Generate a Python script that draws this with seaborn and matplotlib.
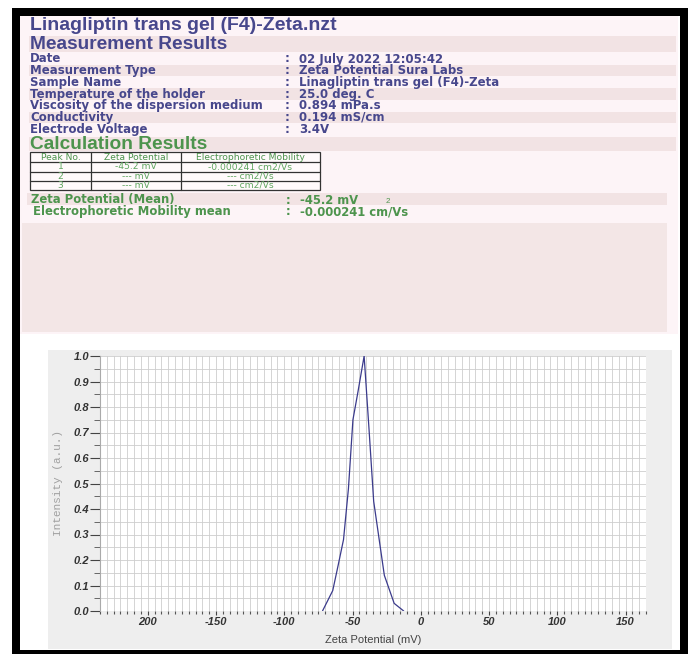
import matplotlib
matplotlib.use("agg")
import matplotlib.pyplot as plt
from matplotlib.patches import Rectangle
from matplotlib.ticker import MultipleLocator, FixedLocator
import seaborn as sns
import pandas as pd

# chart data
zeta_mv = [-72, -64.5, -60.5, -56.6, -53, -49.7, -46, -41.5, -38, -34.5, -31, -26.7, -19.5, -12.5]
intensity = [0.0, 0.08, 0.18, 0.28, 0.48, 0.75, 0.86, 1.0, 0.72, 0.43, 0.30, 0.14, 0.03, 0.0]
x_ticks = [-200, -150, -100, -50, 0, 50, 100, 150]
x_tick_labels = ["200", "-150", "-100", "-50", "0", "50", "100", "150"]
y_ticks = [0.0, 0.1, 0.2, 0.3, 0.4, 0.5, 0.6, 0.7, 0.8, 0.9, 1.0]

# report text
title = "Linagliptin trans gel (F4)-Zeta.nzt"
meas_labels = ["Date", "Measurement Type", "Sample Name", "Temperature of the holder",
               "Viscosity of the dispersion medium", "Conductivity", "Electrode Voltage"]
meas_values = ["02 July 2022 12:05:42", "Zeta Potential Sura Labs", "Linagliptin trans gel (F4)-Zeta",
               "25.0 deg. C", "0.894 mPa.s", "0.194 mS/cm", "3.4V"]
table_header = ["Peak No.", "Zeta Potential", "Electrophoretic Mobility"]
table_rows = [["1", "-45.2 mV", "-0.000241 cm2/Vs"],
              ["2", "--- mV", "--- cm2/Vs"],
              ["3", "--- mV", "--- cm2/Vs"]]
mean_labels = ["Zeta Potential (Mean)", "Electrophoretic Mobility mean"]
mean_values = ["-45.2 mV", "-0.000241 cm/Vs"]

W, H = 690, 654
BLUE = "#47478c"
GREEN = "#4d944d"
LGREEN = "#5fa55f"
PINK = "#fdf4f7"
BAND = "#f2e3e4"
ROWFONT = "DejaVu Sans"

sns.set_theme(style="whitegrid")
plt.rcParams["font.family"] = ["Liberation Sans", "DejaVu Sans"]

fig = plt.figure(figsize=(W / 100, H / 100), dpi=100)
fig.patch.set_facecolor("white")


def box(x0, y0, x1, y1, color, ec="none", lw=0, z=0):
    r = Rectangle((x0 / W, 1 - y1 / H), (x1 - x0) / W, (y1 - y0) / H,
                  transform=fig.transFigure, facecolor=color, edgecolor=ec, lw=lw, zorder=z)
    fig.patches.append(r)


def txt(x, y, s, **kw):
    kw.setdefault("va", "center")
    kw.setdefault("zorder", 3)
    fig.text(x / W, 1 - y / H, s, **kw)


# black frame and backgrounds
box(12, 8, 688, 654, "black")
box(20, 16, 680, 650, "white")
box(20, 16, 678, 334, PINK)
box(48, 350, 672, 649, "#eeeeee")

# title + measurement block
txt(30, 26, title, fontsize=14, fontweight="bold", color=BLUE)
box(29, 36, 676, 52, BAND)
txt(30, 44.5, "Measurement Results", fontsize=13.8, fontweight="bold", color=BLUE)
for i, (lab, val) in enumerate(zip(meas_labels, meas_values)):
    yc = 59 + i * 11.7
    if i % 2 == 1:
        box(29, yc - 5.6, 676, yc + 5.6, BAND)
    txt(30, yc, lab, fontsize=8.5, fontweight="bold", color=BLUE, family=ROWFONT)
    txt(285, yc, ":", fontsize=8.5, fontweight="bold", color=BLUE, family=ROWFONT)
    txt(299, yc, val, fontsize=8.5, fontweight="bold", color=BLUE, family=ROWFONT)

box(29, 137, 676, 151, BAND)
txt(30, 144.5, "Calculation Results", fontsize=13.8, fontweight="bold", color=GREEN)

# results table
col_x = [30, 91, 181, 320]
row_y = [152, 162, 171.5, 180.8, 190]
box(col_x[0], row_y[0], col_x[-1], row_y[-1], "#fffafb", ec="#333333", lw=0.9, z=1)
for yy in row_y[1:-1]:
    fig.add_artist(plt.Line2D([col_x[0] / W, col_x[-1] / W], [1 - yy / H, 1 - yy / H],
                              transform=fig.transFigure, color="#333333", lw=0.9))
for xx in col_x[1:-1]:
    fig.add_artist(plt.Line2D([xx / W, xx / W], [1 - row_y[0] / H, 1 - row_y[-1] / H],
                              transform=fig.transFigure, color="#333333", lw=0.9))
for r, cells in enumerate([table_header] + table_rows):
    yc = (row_y[r] + row_y[r + 1]) / 2
    for c, s in enumerate(cells):
        xc = (col_x[c] + col_x[c + 1]) / 2
        txt(xc, yc, s, fontsize=6.6, ha="center", family="DejaVu Sans",
            color=GREEN if r == 0 else LGREEN)

# mean section
box(27, 193, 667, 205, BAND)
for i, (lab, val) in enumerate(zip(mean_labels, mean_values)):
    yc = 200 + i * 11.7
    txt(31 + 2 * i, yc, lab, fontsize=8.4, fontweight="bold", color=GREEN, family=ROWFONT)
    txt(286, yc, ":", fontsize=8.4, fontweight="bold", color=GREEN, family=ROWFONT)
    txt(300, yc, val, fontsize=8.4, fontweight="bold", color=GREEN, family=ROWFONT)
txt(386, 201, "2", fontsize=5.8, color=GREEN)
box(22, 223, 667, 332, "#f3e6e6")

# distribution chart
ax = fig.add_axes([100 / W, 1 - 611 / H, 546 / W, 255 / H])
ax.set_zorder(5)
ax.set_facecolor("white")
df = pd.DataFrame({"zeta": zeta_mv, "intensity": intensity})
sns.lineplot(data=df, x="zeta", y="intensity", ax=ax, color="#3b3b8c", lw=0.9, zorder=3)

ax.set_xlim(-235, 165)
ax.set_ylim(0, 1.0)
ax.xaxis.set_major_locator(FixedLocator(x_ticks))
ax.set_xticklabels(x_tick_labels)
ax.xaxis.set_minor_locator(MultipleLocator(5))
ax.yaxis.set_major_locator(FixedLocator(y_ticks))
ax.set_yticklabels([f"{v:.1f}" for v in y_ticks])
ax.yaxis.set_minor_locator(MultipleLocator(0.05))
ax.grid(which="both", color="#cdcdcd", lw=0.6)
for s in ax.spines.values():
    s.set_visible(False)
ax.spines["left"].set_visible(True)
ax.spines["left"].set_color("#aaaaaa")
ax.spines["left"].set_linewidth(0.8)
ax.tick_params(axis="y", which="major", direction="out", length=7, width=0.8, color="#444444",
               labelsize=8, labelcolor="#333333", left=True, pad=0.5)
ax.tick_params(axis="y", which="minor", direction="out", length=4, width=0.7, color="#666666", left=True)
ax.tick_params(axis="x", which="major", direction="out", length=3, width=0.8, color="#444444",
               labelsize=8, labelcolor="#333333", bottom=True, pad=1.5)
ax.tick_params(axis="x", which="minor", direction="out", length=2.5, width=0.8, color="#555555", bottom=True)
for lab in ax.get_xticklabels() + ax.get_yticklabels():
    lab.set_fontstyle("italic")
    lab.set_fontweight("bold")

ax.set_xlabel("")
ax.set_ylabel("")
txt(373, 640, "Zeta Potential (mV)", fontsize=8, ha="center", color="#444444")
txt(58, 483, "Intensity (a.u.)", fontsize=8, ha="center", rotation=90,
    color="#a0a0a0", family="Liberation Mono")

fig.savefig("out.png", dpi=100)
